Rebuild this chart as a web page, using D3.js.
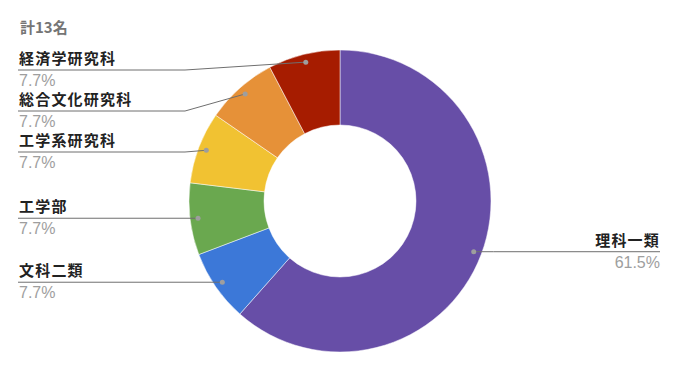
<!DOCTYPE html>
<html>
<head>
<meta charset="utf-8">
<script src="https://cdn.jsdelivr.net/npm/d3@7"></script>
<style>
  body { margin: 0; background: #fff; }
  svg { display: block; }
</style>
</head>
<body>
<svg width="679" height="371"></svg>
<script>
const title = "計13名";
const categories = ["理科一類", "文科二類", "工学部", "工学系研究科", "総合文化研究科", "経済学研究科"];
const counts = [8, 1, 1, 1, 1, 1];
const colors = ["#674ea7", "#3c78d8", "#6aa84f", "#f1c232", "#e69138", "#a61c00"];

const width = 679, height = 371;
const cx = 340, cy = 201;
const outerR = 151, innerR = 76, dotR = 143;
const total = d3.sum(counts);

const svg = d3.select("svg");

svg.append("text")
    .attr("x", 20)
    .attr("y", 33)
    .attr("fill", "#757575")
    .attr("font-family", "'Noto Sans CJK JP', sans-serif")
    .attr("font-size", 15)
    .attr("font-weight", "bold")
    .text(title);

const pie = d3.pie().sort(null).value(d => d);
const arcs = pie(counts);
const arc = d3.arc().innerRadius(innerR).outerRadius(outerR);

const g = svg.append("g").attr("transform", "translate(" + cx + "," + cy + ")");

g.selectAll("path")
    .data(arcs)
    .enter()
    .append("path")
    .attr("d", arc)
    .attr("fill", (d, i) => colors[i])
    .attr("stroke", "#fff")
    .attr("stroke-width", 0.5);

// label anchor points
const pts = arcs.map((d, i) => {
    const a = (d.startAngle + d.endAngle) / 2;
    return {
        i: i,
        x: cx + dotR * Math.sin(a),
        y: cy - dotR * Math.cos(a),
        left: Math.sin(a) < 0
    };
});

// spread left labels top-down
const leftPts = pts.filter(p => p.left).sort((a, b) => a.y - b.y);
let prev = 70 - 41;
leftPts.forEach(p => {
    p.ly = Math.max(p.y, prev + 41);
    prev = p.ly;
});
pts.filter(p => !p.left).forEach(p => { p.ly = p.y; });

const fmt = d3.format(".1f");
const labels = svg.append("g");

pts.forEach(p => {
    const name = categories[p.i];
    const pct = fmt(counts[p.i] / total * 100) + "%";
    let path, tx, anchor;
    if (p.left) {
        const elbow = Math.min(185, p.x - 12);
        path = [[18, p.ly], [elbow, p.ly], [p.x, p.y]];
        tx = 19; anchor = "start";
    } else {
        path = [[p.x, p.y], [p.x + 20, p.ly], [660, p.ly]];
        tx = 660; anchor = "end";
    }
    labels.append("path")
        .attr("d", d3.line()(path))
        .attr("fill", "none")
        .attr("stroke", "#6f6f6f")
        .attr("stroke-width", 1);
    labels.append("circle")
        .attr("cx", p.x)
        .attr("cy", p.y)
        .attr("r", 2.5)
        .attr("fill", "#9e9e9e");
    labels.append("text")
        .attr("x", tx)
        .attr("y", p.ly - 6)
        .attr("text-anchor", anchor)
        .attr("font-family", "'Noto Sans CJK JP', sans-serif")
        .attr("font-size", 15)
        .attr("font-weight", "bold")
        .attr("letter-spacing", 1.2)
        .attr("fill", "#222")
        .text(name);
    labels.append("text")
        .attr("x", tx)
        .attr("y", p.ly + 16)
        .attr("text-anchor", anchor)
        .attr("font-family", "'Liberation Sans', Arial, sans-serif")
        .attr("font-size", 16)
        .attr("fill", "#9e9e9e")
        .text(pct);
});
</script>
</body>
</html>
